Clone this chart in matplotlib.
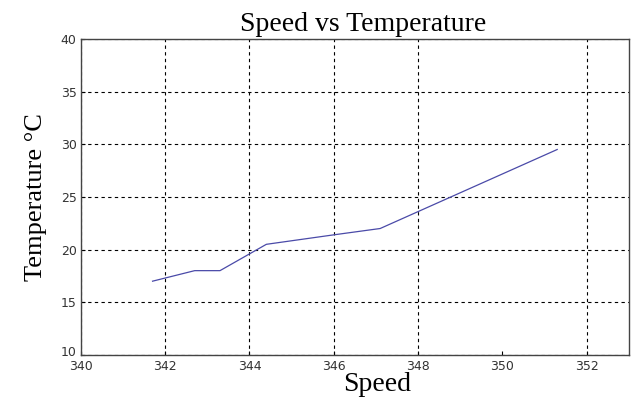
import matplotlib.pyplot as plt
from matplotlib.transforms import ScaledTranslation

speed = [341.7, 342.7, 343.3, 344.4, 346.0, 347.1, 351.3]
temperature = [17.0, 18.0, 18.0, 20.5, 21.4, 22.0, 29.5]

x_ticks = [340, 342, 344, 346, 348, 350, 352]
y_ticks = [10, 15, 20, 25, 30, 35, 40]

fig = plt.figure(figsize=(6.32, 3.97), dpi=100)
ax = fig.add_axes([0.128, 0.106, 0.867, 0.796])

ax.plot(speed, temperature, color="#4a4aa8", linewidth=0.9)

ax.set_xlim(340, 353)
ax.set_ylim(10, 40)
ax.set_xticks(x_ticks)
ax.set_yticks(y_ticks)
ax.tick_params(direction="in", length=3, labelsize=9, labelcolor="#333333")
ax.tick_params(axis="x", pad=4)
ax.tick_params(axis="y", pad=3)

# lift the bottom y label a little so it clears "340", as in the original
lbl = ax.get_yticklabels()[0]
lbl.set_transform(lbl.get_transform() + ScaledTranslation(0, 3 / 72, fig.dpi_scale_trans))

ax.grid(True, color="black", linestyle=(0, (3, 3)), linewidth=0.8)
# the scanned original has no grid line at 350
ax.get_xgridlines()[x_ticks.index(350)].set_visible(False)

for s in ax.spines.values():
    s.set_color("#444444")
    s.set_linewidth(1.0)

serif = "Liberation Serif"
ax.set_title("Speed vs Temperature", fontfamily=serif, fontsize=20, pad=6, x=0.515)
ax.set_xlabel("Speed", fontfamily=serif, fontsize=20, labelpad=-1)
ax.xaxis.set_label_coords(0.54, -0.055, transform=ax.transAxes)
ax.xaxis.label.set_va("top")
ax.set_ylabel("Temperature °C", fontfamily=serif, fontsize=19, labelpad=10)

fig.savefig("out.png", dpi=100)
